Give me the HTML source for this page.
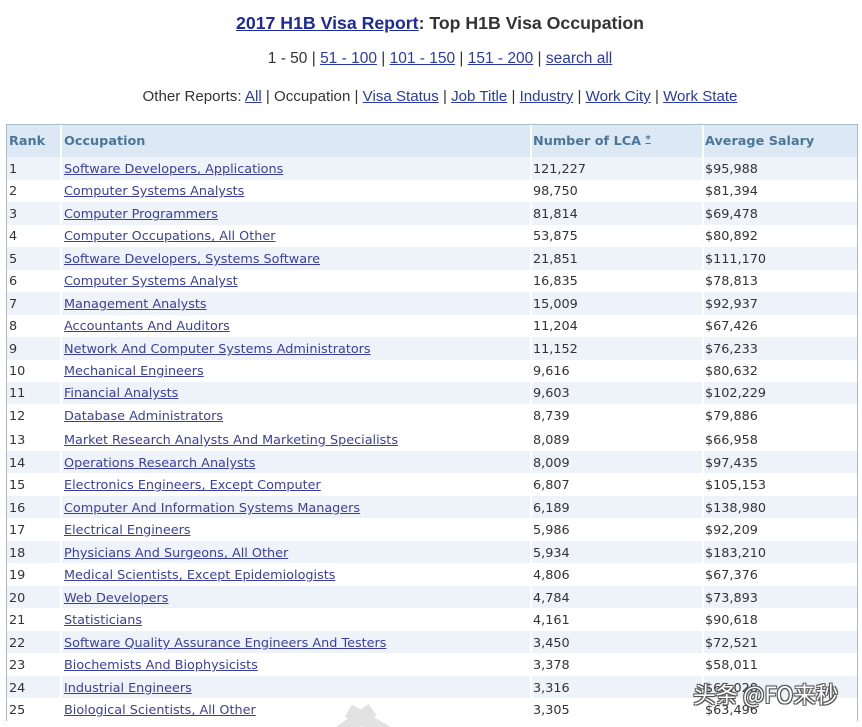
<!DOCTYPE html>
<html><head><meta charset="utf-8">
<style>
*{margin:0;padding:0;box-sizing:border-box}
html,body{width:862px;height:727px;background:#fff;overflow:hidden;position:relative}
body{font-family:"DejaVu Sans","Liberation Sans",sans-serif;color:#333}
.top{position:absolute;left:9px;width:862px;text-align:center;font-family:"Liberation Sans",sans-serif;white-space:nowrap}
.t1{top:13px;font-size:17.7px;font-weight:bold;color:#333;}
.t1 a{color:#1c2a9c;text-decoration:underline}
.t2{top:50px;font-size:15.5px;color:#333}
.t3{top:88px;font-size:15.1px;color:#333}
.t2 a,.t3 a{color:#2a3aa8;text-decoration:underline}
.tbl{position:absolute;left:6px;top:124px;width:852px;height:597px;border:1px solid #a9bccd;border-bottom:none}
.row{position:absolute;left:7px;width:850px;font-size:12.8px;white-space:nowrap}
.row span{position:absolute;top:1px}
.row span span{position:relative;top:-3px}
.c1{left:2px}.c2{left:57px}.c3{left:526px}.c4{left:698px}
.row a{color:#3a3f9c;text-decoration:underline}
.hd{background:#dce8f4;font-weight:bold;color:#4a7797}
.b{background:#eef3f9}
.vl{position:absolute;top:125px;width:2px;height:595px;background:#fff}
.wm{position:absolute;left:693px;top:678px;font-family:"Noto Sans CJK SC","Liberation Sans",sans-serif;font-size:22.5px;color:#fff;white-space:nowrap;
text-shadow:-1px -1px 0 #555,1px -1px 0 #555,-1px 1px 0 #555,1px 1px 0 #555,0 0 2px #333}
.x1,.x2{position:absolute;background:#e2e2e2;height:14px;width:60px;top:720px}
</style></head><body>
<div class="top t1"><a>2017 H1B Visa Report</a>: Top H1B Visa Occupation</div>
<div class="top t2">1 - 50 | <a>51 - 100</a> | <a>101 - 150</a> | <a>151 - 200</a> | <a>search all</a></div>
<div class="top t3">Other Reports: <a>All</a> | Occupation | <a>Visa Status</a> | <a>Job Title</a> | <a>Industry</a> | <a>Work City</a> | <a>Work State</a></div>

<div class="tbl"></div>
<div class="row hd" style="top:125px;height:32px;line-height:32px"><span class="c1">Rank</span><span class="c2">Occupation</span><span class="c3">Number of LCA <span style="font-size:10px;text-decoration:underline">*</span></span><span class="c4">Average Salary</span></div>

<div class="row b" style="top:157px;height:23px;line-height:23px"><span class="c1">1</span><span class="c2"><a>Software Developers, Applications</a></span><span class="c3">121,227</span><span class="c4">$95,988</span></div>
<div class="row" style="top:180px;height:22px;line-height:22px"><span class="c1">2</span><span class="c2"><a>Computer Systems Analysts</a></span><span class="c3">98,750</span><span class="c4">$81,394</span></div>
<div class="row b" style="top:202px;height:23px;line-height:23px"><span class="c1">3</span><span class="c2"><a>Computer Programmers</a></span><span class="c3">81,814</span><span class="c4">$69,478</span></div>
<div class="row" style="top:225px;height:22px;line-height:22px"><span class="c1">4</span><span class="c2"><a>Computer Occupations, All Other</a></span><span class="c3">53,875</span><span class="c4">$80,892</span></div>
<div class="row b" style="top:247px;height:23px;line-height:23px"><span class="c1">5</span><span class="c2"><a>Software Developers, Systems Software</a></span><span class="c3">21,851</span><span class="c4">$111,170</span></div>
<div class="row" style="top:270px;height:22px;line-height:22px"><span class="c1">6</span><span class="c2"><a>Computer Systems Analyst</a></span><span class="c3">16,835</span><span class="c4">$78,813</span></div>
<div class="row b" style="top:292px;height:23px;line-height:23px"><span class="c1">7</span><span class="c2"><a>Management Analysts</a></span><span class="c3">15,009</span><span class="c4">$92,937</span></div>
<div class="row" style="top:315px;height:22px;line-height:22px"><span class="c1">8</span><span class="c2"><a>Accountants And Auditors</a></span><span class="c3">11,204</span><span class="c4">$67,426</span></div>
<div class="row b" style="top:337px;height:23px;line-height:23px"><span class="c1">9</span><span class="c2"><a>Network And Computer Systems Administrators</a></span><span class="c3">11,152</span><span class="c4">$76,233</span></div>
<div class="row" style="top:360px;height:22px;line-height:22px"><span class="c1">10</span><span class="c2"><a>Mechanical Engineers</a></span><span class="c3">9,616</span><span class="c4">$80,632</span></div>
<div class="row b" style="top:382px;height:22px;line-height:22px"><span class="c1">11</span><span class="c2"><a>Financial Analysts</a></span><span class="c3">9,603</span><span class="c4">$102,229</span></div>
<div class="row" style="top:404px;height:24px;line-height:23px"><span class="c1">12</span><span class="c2"><a>Database Administrators</a></span><span class="c3">8,739</span><span class="c4">$79,886</span></div>
<div class="row" style="top:428px;height:23px;line-height:24px"><span class="c1">13</span><span class="c2"><a>Market Research Analysts And Marketing Specialists</a></span><span class="c3">8,089</span><span class="c4">$66,958</span></div>
<div class="row b" style="top:451px;height:22px;line-height:24px"><span class="c1">14</span><span class="c2"><a>Operations Research Analysts</a></span><span class="c3">8,009</span><span class="c4">$97,435</span></div>
<div class="row" style="top:473px;height:23px;line-height:24px"><span class="c1">15</span><span class="c2"><a>Electronics Engineers, Except Computer</a></span><span class="c3">6,807</span><span class="c4">$105,153</span></div>
<div class="row b" style="top:496px;height:22px;line-height:24px"><span class="c1">16</span><span class="c2"><a>Computer And Information Systems Managers</a></span><span class="c3">6,189</span><span class="c4">$138,980</span></div>
<div class="row" style="top:518px;height:23px;line-height:24px"><span class="c1">17</span><span class="c2"><a>Electrical Engineers</a></span><span class="c3">5,986</span><span class="c4">$92,209</span></div>
<div class="row b" style="top:541px;height:22px;line-height:24px"><span class="c1">18</span><span class="c2"><a>Physicians And Surgeons, All Other</a></span><span class="c3">5,934</span><span class="c4">$183,210</span></div>
<div class="row" style="top:563px;height:23px;line-height:24px"><span class="c1">19</span><span class="c2"><a>Medical Scientists, Except Epidemiologists</a></span><span class="c3">4,806</span><span class="c4">$67,376</span></div>
<div class="row b" style="top:586px;height:22px;line-height:24px"><span class="c1">20</span><span class="c2"><a>Web Developers</a></span><span class="c3">4,784</span><span class="c4">$73,893</span></div>
<div class="row" style="top:608px;height:23px;line-height:24px"><span class="c1">21</span><span class="c2"><a>Statisticians</a></span><span class="c3">4,161</span><span class="c4">$90,618</span></div>
<div class="row b" style="top:631px;height:22px;line-height:24px"><span class="c1">22</span><span class="c2"><a>Software Quality Assurance Engineers And Testers</a></span><span class="c3">3,450</span><span class="c4">$72,521</span></div>
<div class="row" style="top:653px;height:23px;line-height:24px"><span class="c1">23</span><span class="c2"><a>Biochemists And Biophysicists</a></span><span class="c3">3,378</span><span class="c4">$58,011</span></div>
<div class="row b" style="top:676px;height:22px;line-height:24px"><span class="c1">24</span><span class="c2"><a>Industrial Engineers</a></span><span class="c3">3,316</span><span class="c4">$65,028</span></div>
<div class="row" style="top:698px;height:22px;line-height:24px"><span class="c1">25</span><span class="c2"><a>Biological Scientists, All Other</a></span><span class="c3">3,305</span><span class="c4">$63,496</span></div>

<div class="vl" style="left:60px"></div>
<div class="vl" style="left:530px"></div>
<div class="vl" style="left:702px"></div>

<div class="x1" style="left:318px;transform:rotate(-35deg)"></div>
<div class="x2" style="left:345px;top:716px;transform:rotate(30deg);width:50px"></div>

<div class="wm">头条 @FO来秒</div>
</body></html>
